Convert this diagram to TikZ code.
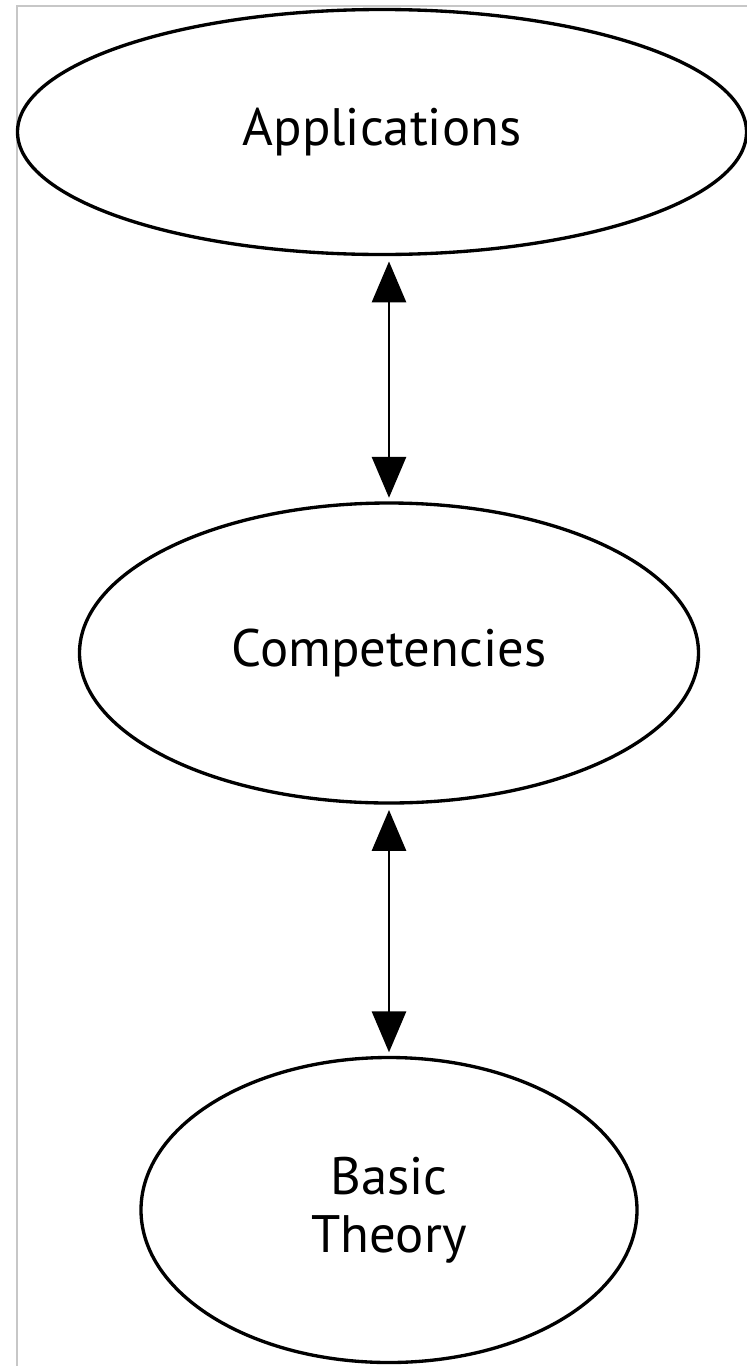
\documentclass[tikz,border=0pt]{standalone}
\usepackage{fontspec}
\setmainfont{PT Sans}
\usetikzlibrary{shapes,arrows.meta}

\tikzset{
  blob/.style={draw, ellipse, line width=1.9pt, inner sep=0pt,
    font=\fontsize{30}{33}\selectfont, align=center},
  pijl/.style={line width=1.7pt, {Triangle[length=0.82cm,width=0.68cm]}-{Triangle[length=0.82cm,width=0.68cm]},
    shorten <=3pt, shorten >=2pt}
}

\begin{document}
\begin{tikzpicture}[x=0.02cm, y=-0.02cm]
    % kader
    \useasboundingbox (0,0) rectangle (747,1366);
    \draw[black!22, line width=1.2pt] (17,1366) -- (17,6) -- (747,6);
    % ellipsen
    \node[blob, minimum width=729*0.02cm, minimum height=245*0.02cm] (app) at (382,132) {Applications};
    \node[blob, minimum width=619*0.02cm, minimum height=300*0.02cm] (comp) at (389,653) {Competencies};
    \node[blob, minimum width=496*0.02cm, minimum height=305*0.02cm] (theory) at (389,1210) {Basic\\Theory};
    % pijlen
    \draw[pijl] (app.south -| comp.north) -- (comp.north);
    \draw[pijl] (comp.south) -- (theory.north);
\end{tikzpicture}
\end{document}
